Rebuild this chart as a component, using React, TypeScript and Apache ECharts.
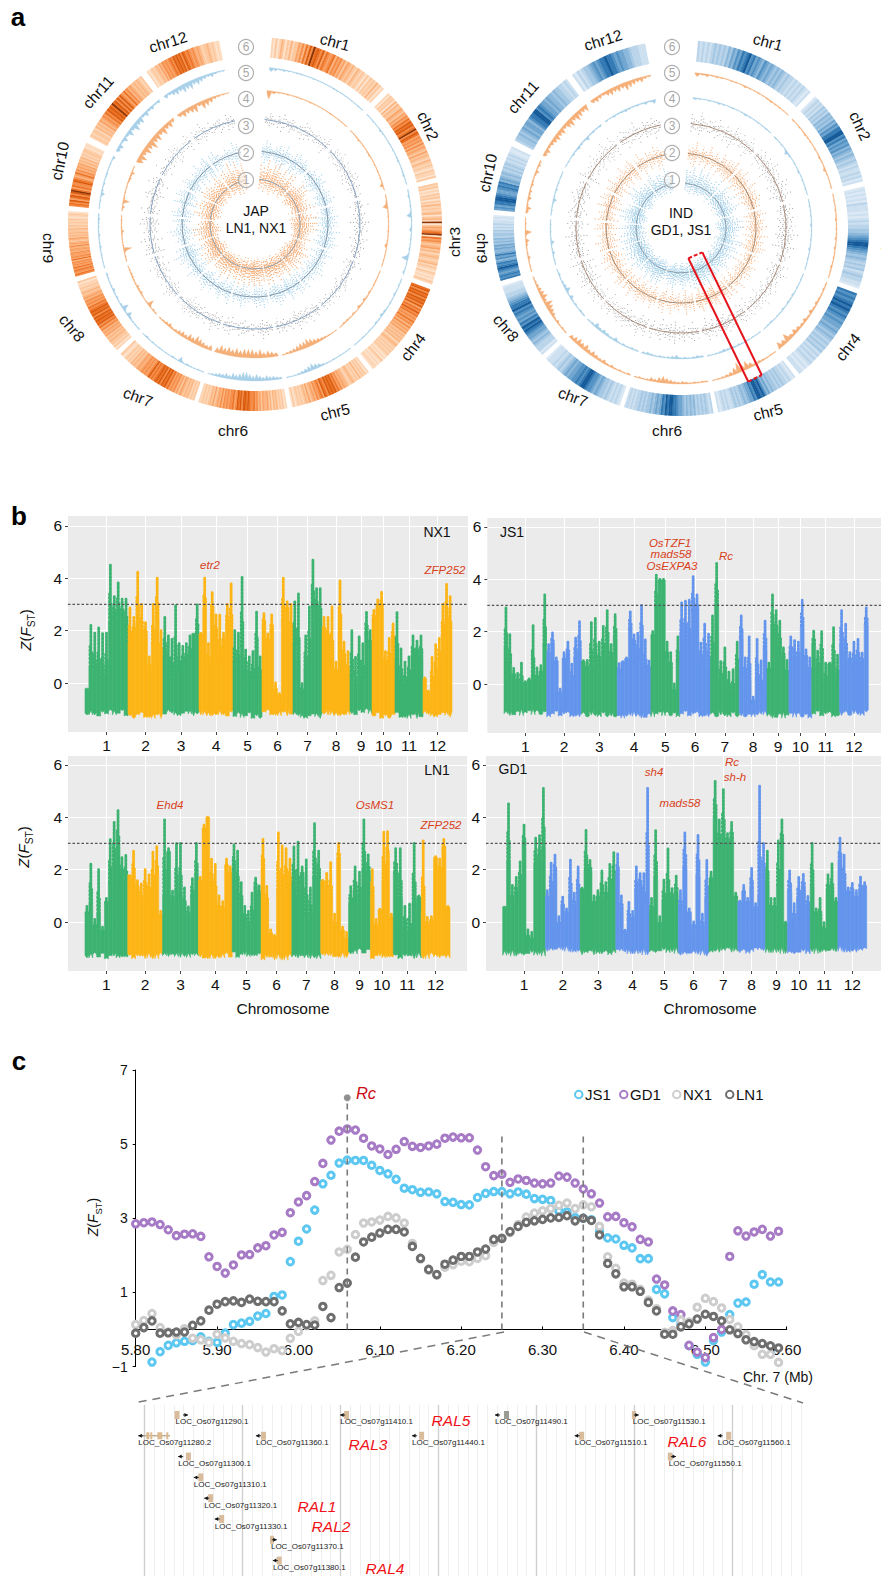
import React, { useEffect, useRef } from "react";
import * as echarts from "echarts";

const FONT = '"Liberation Sans", Arial, sans-serif';

// ---------- panel a: chromosome arcs (degrees clockwise from 12 o'clock)
const CHR_ARCS = [[5.2,43.7],[45.5,75.6],[77.2,108.9],[110.4,141],[142.4,168.6],[170,197.7],[199,226],[227.5,252],[253.6,274],[275.5,295.8],[297.7,322.5],[324.5,349]];
const ORANGES = ['#feeede','#fde3cc','#fdd5b4','#fcc79c','#fbb581','#f9a266','#f58c47','#ec7326','#d95c0f','#8a3305'];
const BLUES = ['#e9f1f9','#dce9f5','#cde0f0','#bad4ea','#a4c7e3','#8bb7da','#6fa5cf','#5291c3','#3379b3','#155a99'];

const HEAT_JAP = ["2131243132423354647586978768576567465645354343243232131323242312","2132314243354354657687867968756564645435343243232132213","3231213231324232341342913546791756434534234323423213212132","7868786878685768675657564645453434342343232323212132121221","2132324232343234454657687878678576564543534323232131","2132324342435445354657667878868786576656564645435343232322","3232434345354656576878687876768656565454343423232123","2132334343545465768787868787675656454343232213","6756757565647565564554645434534343342332323212321","6768578689757668764575645453434232332121","2323324343545657687879786868657564543434323","2123234354656567687878687676565454323343232121"];
const HEAT_IND = ["3232323434343546576878978676576565454543433232323212","1232324343545465768899786767565454343232232312","1212121322212123233445678998765454343423433221","8787898987876766565454343434232323212122","2123233434344546579899786654543434322323212","3234343435454545667889989786565454434343323232","1232323434456567789987877665654343232221","2133345456678989786767879887654332221","8787678987865768655656454534434232322121","6768899876678785654543434323232112","3445456566578899787665655454433232","2132344567678898876766554333222"];

const AREA_JAP_5 = ["542321221121111221111121","112113211212123112311","131216114121217113","12131213423121211","1112121235676543101","3455656767887675655431","121132613111212131","2223627313242123","11121321312232","1121531312311214","5636475867464534","54676878676545322"];
const AREA_JAP_4 = ["8421211212111121111","1123121231121212151","126121121141111","1122132424132331","0123456787765431","5676878887878786","6567867565435432","2317212434223321","1218211242121","1417312121343521","7868797868675","5767858764321"];
const AREA_IND_5 = ["534232122132121232211","212132212132142112","121213121313121321","2323435354565867","1223436879754321","2323234345676453232","3232435456576765","2324356785765432","1214213517121","4632534243235243","5645676757868767","5654676768765643"];
const AREA_IND_4 = ["321213212113212121","212153121312121","121213112131211","1212132313221321","112132325343212","343232543232343","2323253454632","2313251643131","1214215212121","1212521312121","1213243252323","2132343232425"];

const CLOUD_JAP_1 = ["87978978688","66878767678","57868787667","66768778787","78677876878","77878786878","77686787777","68787867676","76878676","67867877","787876787","88797968"];
const CLOUD_JAP_2 = ["687567786578676","576867567686","67586776857687","68576786758","78678567876","6878567867","87686576876","67857687968","57689657","78658687","6875768578","78657687"];
const CLOUD_JAP_3 = ["6757867568767568","57686756786756","68576867586776","78567687576867","67586768576867","67857687687","76867586768756","67857686857","876957687","7856786587","6857687568","7685768576"];
const CLOUD_IND_1 = ["77868787678","68767867876","67878767688","78687678767","77868787878","86787678776","67878768767","77867878678","78687687","67878767","678786767","78677687"];
const CLOUD_IND_2 = ["678576867586778","76867586768756","68576876857687","67586776858","78658767686","7685768687","68576876857","78657686876","76867587","86758687","7685768578","68576876"];
const CLOUD_IND_3 = ["7685768576867586","68576867587686","67586768768576","76857687586768","78657686857686","68576876857","76857686875768","68575876868","786768578","6875768657","8576867868","6876857687"];

// ---------- panel b: genome-scan envelopes, per chromosome
const CHR_SIZES = [43,35,36,34,29,31,29,28,22,23,28,29];
const CHR_LABELS = ["1","2","3","4","5","6","7","8","9","10","11","12"];

const NX1_TOP = [[-0.2,2.2,1.9,2.1,1.9,1.9,4.5,3.3,3.85,3.2,3.2],[2.9,2.5,4.25,3.0,2.3,1.0,3.0,4.05,2.0],[2.5,1.8,1.7,3.0,1.5,1.4,1.5,1.8,1.9,3.0],[1.9,4.0,1.5,3.45,2.6,2.6,1.9,3.0,3.8],[2.0,1.9,4.05,1.3,1.0,1.2,2.7,1.0],[2.65,1.9,2.6,0.0,-0.4,4.0,3.1,3.0],[3.1,3.4,0.0,1.8,2.9,4.7,3.6,3.6],[2.5,2.5,2.9,0.8,3.9,1.6,1.2],[2.0,1.0,1.8,1.5,2.7,2.0],[2.8,3.2,3.5,1.2,1.7,2.3],[2.7,1.3,0.8,1.0,1.8,1.6,1.8],[0.2,-0.3,1.0,1.5,1.7,3.0,3.8,3.3]];
const NX1_SOLID = [[-0.2,0.6,0.3,0.2,0.1,0.3,2.3,2.5,2.6,2.6,2.2],[1.5,1.9,2.3,2.0,1.8,0.5,1.5,2.5,1.0],[1.0,0.5,0.3,0.6,0.5,0.8,0.9,1.0,1.9,1.9],[1.8,2.8,0.7,2.6,1.8,0.8,1.6,2.2,2.0],[0.8,0.6,1.4,0.6,0.1,0.2,1.2,0.2],[2.2,1.5,2.0,-0.3,-0.5,2.4,2.8,1.8],[1.5,0.8,-0.4,0.5,1.0,2.9,2.8,2.4],[1.9,1.5,0.9,0.3,1.9,0.9,0.3],[0.3,-0.1,0.4,0.2,1.9,1.4],[2.4,2.8,2.8,0.7,0.8,1.6],[0.9,0.1,-0.1,0.2,1.0,1.1,1.0],[0.1,-0.4,-0.1,0.1,0.9,1.8,2.4,1.8]];
const NX1_LOW = [-1.15,-1.25,-1.15,-1.15,-1.25,-1.15,-1.25,-1.15,-1.1,-1.25,-1.25,-1.2];
const NX1_ROUGH = "3140625137052461305724610352647103";

const JS1_TOP = [[2.9,1.9,0.6,0.4,0.8,0.1,0.2,2.25,0.65,0.7,3.4],[1.5,1.95,1.0,-0.2,1.2,1.6,0.8,1.75,2.4],[0.9,0.9,2.35,2.5,1.6,2.2,2.8,1.5,2.65],[0.8,0.85,1.0,2.8,1.9,1.95,3.0,1.7,0.9],[2.0,4.15,4.0,4.0,1.6,1.2,0.0,1.8],[3.1,3.2,3.2,4.1,3.4,1.6,2.3,1.9],[2.6,4.6,0.9,1.4,0.5,0.55,1.6],[2.6,1.0,1.8,-0.5,1.75,0.9,2.4],[0.8,3.4,2.8,2.4,1.4,0.9],[1.8,1.7,1.6,3.2,1.3,1.0],[2.05,1.3,2.0,0.8,0.8,2.15,1.1],[2.8,2.3,1.2,1.6,1.7,1.2,2.9]];
const JS1_SOLID = [[1.4,0.8,0.3,0.1,0.0,0.0,0.1,0.3,0.1,0.4,1.5],[1.0,1.5,0.8,-0.4,0.9,1.1,0.1,1.0,1.3],[0.8,0.6,0.7,1.0,0.7,1.2,1.5,1.0,1.8],[0.4,0.8,0.9,2.1,1.5,1.0,1.8,0.6,0.5],[1.8,3.0,3.9,3.9,1.0,0.6,-0.3,0.9],[1.9,1.8,1.5,2.8,2.8,0.9,1.2,0.6],[1.0,3.0,0.2,0.3,-0.2,-0.3,0.6],[1.8,0.4,0.2,-0.7,0.2,-0.2,1.4],[0.5,2.2,1.9,1.4,1.0,0.3],[1.2,1.0,1.0,2.2,1.0,0.4],[1.5,0.6,1.0,0.0,0.7,0.8,0.2],[1.5,1.2,0.9,0.8,0.9,0.8,2.3]];
const JS1_LOW = [-1.1,-1.15,-1.15,-1.2,-1.15,-1.15,-1.15,-1.15,-1.2,-1.2,-1.15,-1.1];
const JS1_ROUGH = "2514036142503716402531740625130472";

const LN1_TOP = [[0.6,2.25,0.1,2.0,-0.2,0.9,3.15,3.8,4.25,2.5,2.55],[1.8,2.7,1.6,1.5,2.0,1.8,2.7,2.9,0.4],[3.9,2.8,1.2,3.0,3.0,1.3,0.6,1.7,3.0],[1.7,3.7,4.0,2.4,2.2,1.0,0.8,2.4,2.1],[2.95,2.7,1.5,0.6,0.4,1.1,1.7,1.4],[3.15,1.4,-0.3,-0.5,3.4,2.9,2.8,2.4],[2.9,3.05,2.1,2.4,1.3,3.75,2.7],[1.6,1.9,2.3,0.3,3.0,-0.2,-0.4],[1.35,2.1,1.9,3.9,2.6],[2.0,0.1,0.5,3.45,3.45,0.3],[2.8,2.8,0.6,0.7,3.0,1.0],[3.1,0.2,0.2,2.5,2.4,3.15,0.6]];
const LN1_SOLID = [[0.3,0.7,-0.2,0.3,-0.4,0.7,1.5,2.2,2.8,1.8,1.6],[1.8,1.7,1.2,0.8,1.2,1.0,1.3,1.8,0.2],[1.0,2.6,0.8,1.2,1.1,0.5,0.2,1.0,1.8],[1.5,3.5,3.95,1.5,0.9,0.4,0.4,2.1,1.8],[2.0,1.2,0.7,0.1,-0.2,0.1,1.3,1.0],[2.0,0.7,-0.5,-0.6,1.2,1.2,1.6,1.4],[1.5,1.0,1.8,0.3,0.3,1.7,1.7],[1.5,1.2,0.9,-0.2,2.4,-0.4,-0.7],[0.7,1.2,1.0,2.0,1.9],[1.0,-0.2,0.4,1.5,2.3,0.1],[1.9,0.9,-0.2,-0.4,0.7,0.9],[0.4,-0.2,0.0,2.4,1.9,2.8,0.5]];
const LN1_LOW = [-1.3,-1.3,-1.25,-1.3,-1.25,-1.35,-1.3,-1.25,-1.15,-1.3,-1.3,-1.3];
const LN1_ROUGH = "4152603714250637150426317405261304";

const GD1_TOP = [[0.6,4.55,1.4,1.7,2.3,3.7,-0.3,-0.4,3.2,3.3,5.1],[1.2,2.25,2.55,0.2,0.95,0.5,2.4,1.1,2.1],[1.3,3.5,2.35,1.0,1.2,1.95,1.5,2.2,2.65],[2.6,1.0,-0.3,0.75,0.4,2.1,1.85,1.85,5.1],[0.9,3.5,0.2,1.6,2.8,1.3,1.75],[1.2,3.4,0.5,0.0,3.35,0.3,2.35],[1.9,5.4,3.9,5.05,3.4,3.8,1.1],[0.8,1.4,0.9,2.05,0.7,5.2,3.0],[2.7,0.9,0.9,3.1,3.9,0.0],[1.95,0.7,1.7,1.85,1.0],[3.0,0.5,0.9,0.0,1.8,2.25,0.9],[3.2,2.55,1.3,1.5,1.2,1.75,1.5]];
const GD1_SOLID = [[0.6,2.3,0.8,1.1,1.5,2.9,-0.6,-0.7,2.2,2.4,2.8],[0.9,1.2,1.8,-0.1,0.6,0.3,1.0,0.6,1.1],[1.2,2.0,2.0,0.7,0.9,1.1,0.9,1.3,1.6],[1.8,0.5,-0.4,0.1,0.1,1.2,1.4,0.8,1.8],[0.4,1.7,-0.1,0.8,1.0,0.9,1.1],[0.6,2.1,0.3,-0.2,1.8,-0.2,0.9],[1.6,4.0,3.0,3.3,3.0,3.2,0.9],[0.7,1.1,0.7,1.3,0.5,1.0,1.8],[1.5,0.4,0.4,1.4,3.0,-0.1],[1.2,0.1,0.9,1.3,0.6],[1.4,0.3,0.1,-0.4,1.2,1.0,0.7],[2.3,1.5,1.1,1.1,0.9,1.2,1.3]];
const GD1_LOW = [-1.2,-1.05,-1.15,-1.15,-1.1,-1.2,-1.05,-1.1,-1.1,-1.15,-1.1,-1.05];
const GD1_ROUGH = "1605243716052437150362471530264715";

// ---------- panel c
const JS1_Z = [null,null,-0.88,-0.6,-0.43,-0.36,-0.32,-0.3,-0.2,-0.32,-0.35,-0.1,0.13,0.17,0.22,0.36,0.43,0.89,0.93,1.83,2.38,2.71,3.22,3.93,4.16,4.49,4.57,4.56,4.56,4.43,4.29,4.2,4.05,3.81,3.77,3.7,3.71,3.66,3.45,3.43,3.37,3.36,3.56,3.67,3.72,3.72,3.66,3.71,3.65,3.53,3.51,3.48,3.2,3.17,3.02,3.0,2.96,2.65,2.47,2.44,2.27,2.2,1.91,1.91,1.08,0.96,0.32,0.17,-0.44,-0.67,-0.88,-0.3,-0.07,0.4,0.71,0.74,1.22,1.48,1.28,1.28];
const GD1_Z = [2.85,2.88,2.9,2.83,2.69,2.53,2.57,2.58,2.51,1.96,1.7,1.52,1.74,2.01,2.02,2.2,2.26,2.55,2.62,3.15,3.44,3.61,3.99,4.48,5.11,5.35,5.41,5.38,5.16,4.95,4.87,4.72,4.86,5.07,4.94,4.91,4.95,5.0,5.16,5.19,5.17,5.17,4.84,4.39,4.15,4.19,3.97,4.06,4.02,3.95,3.93,3.95,4.14,4.11,3.95,3.79,3.66,3.41,3.04,3.05,2.88,2.77,2.43,2.36,1.36,1.2,0.5,0.4,-0.43,-0.61,-0.76,-0.22,0.0,1.97,2.66,2.52,2.63,2.7,2.52,2.65];
const NX1_Z = [0.13,0.24,0.43,0.05,-0.07,-0.15,0.02,-0.24,-0.28,-0.35,-0.13,-0.23,-0.32,-0.38,-0.41,-0.49,-0.61,-0.52,-0.57,-0.24,-0.05,0.1,0.23,1.32,1.46,2.09,2.16,2.56,2.87,2.9,2.95,3.05,3.01,2.87,2.32,1.9,1.6,1.47,1.68,1.75,1.84,1.83,1.92,1.99,2.35,2.45,2.62,2.83,3.03,3.14,3.2,3.26,3.35,3.41,3.26,3.36,3.31,2.78,1.96,1.65,1.25,1.22,1.08,0.79,0.56,-0.08,-0.03,0.25,0.2,0.6,0.84,0.75,0.58,0.27,0.07,-0.14,-0.44,-0.67,-0.67,-0.89];
const LN1_Z = [-0.1,0.05,0.23,-0.1,-0.09,-0.07,-0.07,0.11,0.23,0.52,0.68,0.75,0.77,0.73,0.82,0.76,0.75,0.75,0.5,0.15,0.19,0.13,0.12,0.62,0.32,1.13,1.25,1.95,2.36,2.49,2.6,2.7,2.7,2.63,2.24,1.92,1.62,1.48,1.76,1.87,1.97,1.97,2.09,2.17,2.43,2.46,2.64,2.78,2.89,2.93,2.97,3.01,3.02,3.07,2.93,3.0,2.94,2.55,1.78,1.5,1.15,1.15,1.03,0.73,0.5,-0.13,-0.13,0.07,0.15,0.28,0.41,0.35,0.23,-0.01,-0.11,-0.28,-0.33,-0.38,-0.44,-0.5];
const C_TICKS = [5.8,5.9,6.0,6.1,6.2,6.3,6.4,6.5,6.6];
const C_YTICKS = [-1,1,3,5,7];

const GENE_NAMES = ["LOC_Os07g11290.1","LOC_Os07g11410.1","LOC_Os07g11490.1","LOC_Os07g11530.1","LOC_Os07g11280.2","LOC_Os07g11360.1","LOC_Os07g11440.1","LOC_Os07g11510.1","LOC_Os07g11560.1","LOC_Os07g11300.1","LOC_Os07g11550.1","LOC_Os07g11310.1","LOC_Os07g11320.1","LOC_Os07g11330.1","LOC_Os07g11370.1","LOC_Os07g11380.1"];
const GENE_START = [6259.6,6284.8,6308.5,6329.6,6253.9,6271.9,6295.8,6320.7,6342.6,6260.0,6335.1,6262.4,6264.0,6265.6,6274.2,6274.5];
const GENE_END = [6261.8,6286.3,6310.8,6330.8,6258.9,6273.6,6297.8,6322.3,6344.8,6262.1,6336.5,6264.0,6265.5,6267.2,6275.4,6276.0];
const GENE_ROW = [0,0,0,0,1,1,1,1,1,2,2,3,4,5,6,7];
const GENE_DIR = [1,-1,-1,1,-1,-1,-1,-1,-1,-1,1,-1,-1,-1,1,-1];

const RING_LABEL_L = [[335,42,15],[428,126,65],[454,242,-90],[413,347,-52],[335,412,-14],[233,430,0],[138,397,20],[72,328,50],[48,248,90],[60,161,-78],[98,92,-48],[168,42,-17]];
const RING_LABEL_R = [[768,42,15],[860,126,65],[886,243,-90],[848,347,-52],[768,412,-14],[667,430,0],[573,397,20],[506,328,50],[482,248,90],[488,173,-78],[523,97,-48],[603,40,-17]];

function angleOf(p: number[], cs: any) { return Math.atan2(p[1] - cs.cy, p[0] - cs.cx); }
function radOf(p: number[], cs: any) { return Math.hypot(p[0] - cs.cx, p[1] - cs.cy); }

function heatSeries(polarIndex: number, strs: string[], palette: string[], r0: number, r1: number) {
  const data: any[] = [];
  strs.forEach((s, c) => {
    const [a, b] = CHR_ARCS[c];
    const w = (b - a) / s.length;
    for (let i = 0; i < s.length; i++) data.push([r1, a + i * w, a + (i + 1) * w, +s[i], r0, i === s.length - 1 ? 0 : 0.12]);
  });
  return {
    type: "custom", coordinateSystem: "polar", polarIndex, silent: true, encode: { radius: 0, angle: 1 }, data,
    renderItem(params: any, api: any) {
      const cs = params.coordSys;
      const a0 = api.value(1), a1 = api.value(2) + api.value(5);
      const p0 = api.coord([api.value(0), a0]), p1 = api.coord([api.value(0), a1]), pi = api.coord([api.value(4), a0]);
      let s = angleOf(p0, cs), e = angleOf(p1, cs);
      if (e < s) e += Math.PI * 2;
      return { type: "sector", shape: { cx: cs.cx, cy: cs.cy, r: radOf(p0, cs), r0: radOf(pi, cs), startAngle: s, endAngle: e, clockwise: true }, style: { fill: palette[api.value(3)] } };
    },
  };
}

function areaSeries(polarIndex: number, strs: string[], base: number, color: string) {
  return {
    type: "custom", coordinateSystem: "polar", polarIndex, silent: true, encode: { radius: 0, angle: 1 },
    data: strs.map((s, c) => [base, CHR_ARCS[c][0], c]),
    renderItem(params: any, api: any) {
      const c = api.value(2), s = strs[c];
      const [a, b] = CHR_ARCS[c];
      const top: number[][] = [], bot: number[][] = [];
      const w = (b - a) / s.length;
      for (let i = 0; i < s.length; i++) {
        const t = a + (i + 0.5) * w;
        const d = +s[i];
        const h = 0.4 + d * d * 0.12;
        top.push(api.coord([base - 0.4 - h * 0.3, a + i * w]).slice(0, 2));
        top.push(api.coord([base - 0.4 - h, t]).slice(0, 2));
        bot.push(api.coord([base, t]).slice(0, 2));
      }
      const start = api.coord([base, a]).slice(0, 2), end = api.coord([base, b]).slice(0, 2);
      return { type: "polygon", shape: { points: [start, ...top, end, ...bot.reverse()] }, style: { fill: color, stroke: color, lineWidth: 0.3 } };
    },
  };
}

function cloudSeries(polarIndex: number, strs: string[], base: number, color: string, dashes: number[][], lw: number, kOut: number, kIn: number, opacity: number) {
  const data: any[] = [];
  strs.forEach((s, c) => {
    const [a, b] = CHR_ARCS[c];
    const w = (b - a) / s.length;
    for (let i = 0; i < s.length; i++) data.push([base, a + (i + 0.25) * w, +s[i], w / 2, i]);
  });
  return {
    type: "custom", coordinateSystem: "polar", polarIndex, silent: true, encode: { radius: 0, angle: 1 }, data,
    renderItem(params: any, api: any) {
      const a = api.value(1), d = api.value(2), w = api.value(3), idx = api.value(4);
      const ext = d * d * 0.2;
      const mk = (ang: number, ko: number, ki: number, off: number, dash: number[]) => {
        const p = api.coord([base + ext * ko, ang]), q = api.coord([base - ext * ki, ang]);
        return { type: "line", shape: { x1: q[0], y1: q[1], x2: p[0], y2: p[1] }, style: { stroke: color, lineWidth: lw, lineDash: dash, lineDashOffset: off, opacity } };
      };
      const n = dashes.length;
      return { type: "group", children: [
        mk(a, kOut, kIn, idx * 0.93 + d * 0.37, dashes[(idx + d) % n]),
        mk(a + w, kOut * 0.55, kIn * 0.6, idx * 1.37 + d * 0.71, dashes[(idx * 2 + d + 1) % n]),
        mk(a + w * 0.5, kOut * 0.3, kIn * 0.3, idx * 0.61, dashes[(idx * 3 + d + 2) % n]),
      ] };
    },
  };
}

function arcSeries(polarIndex: number, r: number, color: string) {
  return {
    type: "custom", coordinateSystem: "polar", polarIndex, silent: true, encode: { radius: 0, angle: 1 }, z: 4,
    data: CHR_ARCS.map((arc) => [r, arc[0], arc[1]]),
    renderItem(params: any, api: any) {
      const cs = params.coordSys;
      const p0 = api.coord([r, api.value(1)]), p1 = api.coord([r, api.value(2)]);
      let s = angleOf(p0, cs), e = angleOf(p1, cs);
      if (e < s) e += Math.PI * 2;
      return { type: "arc", shape: { cx: cs.cx, cy: cs.cy, r: radOf(p0, cs), startAngle: s, endAngle: e, clockwise: true }, style: { stroke: color, fill: "none", lineWidth: 0.8 } };
    },
  };
}

const cum: number[] = [0];
CHR_SIZES.forEach((s, i) => cum.push(cum[i] + s));
const CHR_CENTERS = CHR_SIZES.map((s, i) => cum[i] + s / 2);
const TOTAL = cum[12];

function manhattanSeries(idx: number, tops: number[][], solids: number[][], lows: number[], rough: string, colA: string, colB: string) {
  const data: any[] = [];
  tops.forEach((t, c) => {
    const w = CHR_SIZES[c] / t.length;
    t.forEach((v, i) => data.push([cum[c] + i * w, cum[c] + (i + 1) * w, lows[c], solids[c][i], v, c, i]));
  });
  return {
    type: "custom", xAxisIndex: idx, yAxisIndex: idx, silent: true, encode: { x: [0, 1], y: [2, 4] }, z: 3, data,
    renderItem(params: any, api: any) {
      const x0 = api.value(0), x1 = api.value(1), lo = api.value(2), so = api.value(3), hi = api.value(4), c = api.value(5);
      const col = c % 2 === 0 ? colA : colB;
      const di = params.dataIndex;
      const w = x1 - x0;
      const loA = lo + (+rough[di % rough.length] - 3) * 0.035, loB = lo + (+rough[(di * 3 + 1) % rough.length] - 3) * 0.035;
      const pts = [[x0, loA], [x0 + w * 0.5, loB], [x1, loA], [x1, so - 0.35 * (x1 - x0) * 0.05], [x1 - w * 0.12, so], [x0 + w * 0.12, so], [x0, so - 0.02]].map((q) => api.coord(q).slice(0, 2));
      const ch: any[] = [{ type: "polygon", shape: { points: pts }, style: { fill: col, stroke: col, lineWidth: 0.6 } }];
      if (hi > so) {
        const mid = (x0 + x1) / 2;
        const t = api.coord([mid, hi]), m = api.coord([mid, so]);
        ch.push({ type: "line", shape: { x1: m[0], y1: m[1], x2: t[0], y2: t[1] }, style: { stroke: col, lineWidth: 2.8, lineCap: "round", lineDash: [2.4, 1.3] } });
        const l = api.coord([x0 + w * 0.2, so + (hi - so) * 0.5]), ml = api.coord([x0 + w * 0.2, so]);
        ch.push({ type: "line", shape: { x1: ml[0], y1: ml[1], x2: l[0], y2: l[1] }, style: { stroke: col, lineWidth: 2.2, lineCap: "round", lineDash: [1.8, 2.2] } });
        const r = api.coord([x0 + w * 0.8, so + (hi - so) * 0.35]), mr = api.coord([x0 + w * 0.8, so]);
        ch.push({ type: "line", shape: { x1: mr[0], y1: mr[1], x2: r[0], y2: r[1] }, style: { stroke: col, lineWidth: 2.2, lineCap: "round", lineDash: [1.8, 1.6] } });
      }
      return { type: "group", children: ch };
    },
  };
}

function nearestLabel(v: number) {
  let best = 0;
  CHR_CENTERS.forEach((c, i) => { if (Math.abs(c - v) < Math.abs(CHR_CENTERS[best] - v)) best = i; });
  return CHR_LABELS[best];
}

const PANELS = [
  { name: "NX1", left: 68, right: 468, top: 516, bottom: 732, x0: 85, x1: 452, y0: 683 },
  { name: "JS1", left: 487.3, right: 881, top: 518, bottom: 733, x0: 504, x1: 868.3, y0: 684 },
  { name: "LN1", left: 68, right: 467, top: 756, bottom: 971, x0: 85, x1: 450, y0: 922 },
  { name: "GD1", left: 486, right: 881, top: 756, bottom: 971, x0: 502.7, x1: 866.7, y0: 922 },
];
const PX_PER_Z = 26.2;

function txt(x: number, y: number, text: string, size: number, extra: any = {}, rot = 0) {
  return { type: "text", x, y, rotation: -rot * Math.PI / 180, z: 20, silent: true,
    style: { text, x: 0, y: 0, align: "center", verticalAlign: "middle", fontFamily: FONT, fontSize: size, fill: "#111", ...extra } };
}

function zLabel(x: number, y: number, size: number) {
  return { type: "text", x, y, rotation: Math.PI / 2, z: 20, silent: true,
    style: { text: "{i|Z}({i|F}{s|ST}{n|)}", x: 0, y: 0, align: "center", verticalAlign: "middle", fontFamily: FONT, fontSize: size, fill: "#111",
      rich: { i: { fontFamily: FONT, fontStyle: "italic", fontSize: size, fill: "#111" }, n: { fontFamily: FONT, fontSize: size, fill: "#111" }, s: { fontFamily: FONT, fontSize: size * 0.68, fill: "#111", verticalAlign: "bottom", lineHeight: size * 1.5 } } } };
}

function buildOption() {
  const red = "#d8401a";
  const geneX = 144.5, geneW = 803 - 144.5, pxPerKb = 6.533;
  const graphicEls: any[] = [
    txt(18, 17, "a", 26, { fontWeight: "bold", fill: "#000" }),
    txt(19, 516, "b", 26, { fontWeight: "bold", fill: "#000" }),
    txt(19, 1061, "c", 26, { fontWeight: "bold", fill: "#000" }),
    txt(256, 211, "JAP", 14), txt(256, 228, "LN1, NX1", 14),
    txt(681, 213, "IND", 14), txt(681, 230, "GD1, JS1", 14),
  ];
  RING_LABEL_L.concat(RING_LABEL_R).forEach((l, i) => graphicEls.push(txt(l[0], l[1], "chr" + ((i % 12) + 1), 15.5, {}, l[2])));
  [246, 672].forEach((cx) => {
    [[6, 47], [5, 73], [4, 99], [3, 126], [2, 153], [1, 180]].forEach(([n, cy]) => {
      graphicEls.push({ type: "circle", z: 19, silent: true, shape: { cx, cy, r: 7.5 }, style: { fill: "rgba(255,255,255,0.55)", stroke: "#b0b0b0", lineWidth: 1.2 } });
      graphicEls.push(txt(cx, cy, String(n), 12, { fill: "#a8a8a8" }));
    });
  });
  const red2 = "#e5141c";
  graphicEls.push({ type: "line", z: 18, silent: true, shape: { x1: 688.3, y1: 258.3, x2: 748.3, y2: 381.7 }, style: { stroke: red2, lineWidth: 2 } });
  graphicEls.push({ type: "line", z: 18, silent: true, shape: { x1: 702.3, y1: 252.3, x2: 761.7, y2: 375 }, style: { stroke: red2, lineWidth: 2 } });
  graphicEls.push({ type: "line", z: 18, silent: true, shape: { x1: 688.3, y1: 258.3, x2: 702.3, y2: 252.3 }, style: { stroke: red2, lineWidth: 2, lineDash: [4, 2] } });
  graphicEls.push({ type: "line", z: 18, silent: true, shape: { x1: 748.3, y1: 381.7, x2: 761.7, y2: 375 }, style: { stroke: red2, lineWidth: 2, lineDash: [4, 2] } });
  graphicEls.push(zLabel(25, 630, 15), zLabel(23, 847, 15), zLabel(93, 1217, 14));
  graphicEls.push(txt(437, 532, "NX1", 14), txt(512, 532, "JS1", 14), txt(437, 770, "LN1", 14), txt(513, 769, "GD1", 14));
  const ann = (x: number, y: number, t: string) => txt(x, y, t, 11.5, { fontStyle: "italic", fill: red });
  graphicEls.push(ann(210, 565, "etr2"), ann(445, 570, "ZFP252"), ann(670, 543, "OsTZF1"), ann(671, 554, "mads58"), ann(672, 566, "OsEXPA3"), ann(726, 556, "Rc"));
  graphicEls.push(ann(170, 805, "Ehd4"), ann(375, 805, "OsMS1"), ann(441, 825, "ZFP252"), ann(654, 772, "sh4"), ann(680, 803, "mads58"), ann(732, 762, "Rc"), ann(735, 777, "sh-h"));
  graphicEls.push(txt(283, 1008, "Chromosome", 15.5), txt(710, 1008, "Chromosome", 15.5));
  graphicEls.push(txt(366, 1093, "Rc", 16.5, { fontStyle: "italic", fill: "#cc0a14" }));
  graphicEls.push(txt(778, 1377, "Chr. 7 (Mb)", 14));
  const conn = { stroke: "#7a7a7a", lineWidth: 1.5, lineDash: [8, 6] };
  graphicEls.push({ type: "line", z: 1, silent: true, shape: { x1: 504, y1: 1332, x2: 134, y2: 1403 }, style: conn });
  graphicEls.push({ type: "line", z: 1, silent: true, shape: { x1: 584, y1: 1332, x2: 803, y2: 1403 }, style: conn });
  const ral = (x: number, y: number, t: string) => txt(x, y, t, 15.5, { fontStyle: "italic", fill: "#f01218" });
  graphicEls.push(ral(451, 1420, "RAL5"), ral(368, 1444, "RAL3"), ral(687, 1441, "RAL6"), ral(317, 1506, "RAL1"), ral(331, 1526, "RAL2"), ral(385, 1568, "RAL4"));

  const grid: any[] = [], xAxis: any[] = [], yAxis: any[] = [], series: any[] = [];
  const tickLine = { show: true, length: 3, lineStyle: { color: "#444" } };
  PANELS.forEach((p, i) => {
    const ppm = (p.x1 - p.x0) / TOTAL;
    grid.push({ left: p.left, top: p.top, width: p.right - p.left, height: p.bottom - p.top, show: true, backgroundColor: "#ebebeb", borderWidth: 0 });
    xAxis.push({
      type: "value", gridIndex: i, min: -(p.x0 - p.left) / ppm, max: TOTAL + (p.right - p.x1) / ppm,
      axisLine: { show: false, onZero: false }, axisTick: { ...tickLine, customValues: CHR_CENTERS },
      axisLabel: { customValues: CHR_CENTERS, formatter: (v: number) => nearestLabel(v), fontFamily: FONT, fontSize: 15.5, color: "#111", margin: 5 },
      splitLine: { show: true, lineStyle: { color: "#fff", width: 1 } },
    });
    const ymin = p.y0 - p.bottom, ymax = p.y0 - p.top;
    yAxis.push({
      type: "value", gridIndex: i, min: ymin / PX_PER_Z, max: ymax / PX_PER_Z,
      axisLine: { show: false, onZero: false }, axisTick: { ...tickLine, customValues: [0, 2, 4, 6] },
      axisLabel: { customValues: [0, 2, 4, 6], fontFamily: FONT, fontSize: 15.5, color: "#111", margin: 6 },
      splitLine: { show: true, lineStyle: { color: "#fff", width: 1 } },
    });
  });
  series.push(manhattanSeries(0, NX1_TOP, NX1_SOLID, NX1_LOW, NX1_ROUGH, "#3cb371", "#fdb515"));
  series.push(manhattanSeries(1, JS1_TOP, JS1_SOLID, JS1_LOW, JS1_ROUGH, "#3cb371", "#6495ed"));
  series.push(manhattanSeries(2, LN1_TOP, LN1_SOLID, LN1_LOW, LN1_ROUGH, "#3cb371", "#fdb515"));
  series.push(manhattanSeries(3, GD1_TOP, GD1_SOLID, GD1_LOW, GD1_ROUGH, "#3cb371", "#6495ed"));
  PANELS.forEach((p, i) => {
    series.push({ type: "line", xAxisIndex: i, yAxisIndex: i, z: 5, silent: true, symbol: "none", data: [[xAxis[i].min, 3], [xAxis[i].max, 3]], lineStyle: { color: "#555", width: 1.1, type: [2.5, 2] } });
  });

  grid.push({ left: 135.7, top: 1070, width: 651, height: 296.5 });
  xAxis.push({
    type: "value", gridIndex: 4, min: 5.8, max: 6.6,
    axisLine: { show: true, onZero: true, lineStyle: { color: "#000", width: 1 } },
    axisTick: { show: true, inside: true, length: 3, customValues: C_TICKS, lineStyle: { color: "#000" } },
    axisLabel: { customValues: C_TICKS, formatter: (v: number) => v.toFixed(2), fontFamily: FONT, fontSize: 15, color: "#111", margin: -25 },
    splitLine: { show: false },
  });
  yAxis.push({
    type: "value", gridIndex: 4, min: -1, max: 7,
    axisLine: { show: true, onZero: false, lineStyle: { color: "#000", width: 1 } },
    axisTick: { show: true, length: 3, customValues: C_YTICKS, lineStyle: { color: "#000" } },
    axisLabel: { customValues: C_YTICKS, formatter: (v: number) => (v < 0 ? "\u2212" + Math.abs(v) : String(v)), fontFamily: FONT, fontSize: 14, color: "#111", margin: 8 },
    splitLine: { show: false },
  });
  const cSeries = (name: string, vals: (number | null)[], color: string) => ({
    name, type: "scatter", xAxisIndex: 4, yAxisIndex: 4, z: 4, symbol: "circle", symbolSize: 6.5, silent: true,
    itemStyle: { color: "#fff", borderColor: color, borderWidth: 3, opacity: 1 },
    data: vals.map((v, i) => (v === null ? null : [5.8 + i * 0.01, v])).filter(Boolean),
  });
  series.push(cSeries("JS1", JS1_Z, "#5cc8f2"), cSeries("GD1", GD1_Z, "#a77ac6"), cSeries("NX1", NX1_Z, "#cdcdcd"), cSeries("LN1", LN1_Z, "#6e6e6e"));
  const dashLine = (x: number, y: number) => ({ type: "line", xAxisIndex: 4, yAxisIndex: 4, z: 6, silent: true, symbol: "none", data: [[x, 0], [x, y]], lineStyle: { color: "#7a7a7a", width: 1.6, type: [6, 5] } });
  series.push(dashLine(6.06, 6.25), dashLine(6.25, 5.25), dashLine(6.35, 5.25));
  series.push({ type: "scatter", xAxisIndex: 4, yAxisIndex: 4, z: 6, silent: true, symbolSize: 7, itemStyle: { color: "#777" }, data: [[6.06, 6.25]] });

  grid.push({ left: geneX, top: 1405, width: geneW, height: 171 });
  xAxis.push({
    type: "value", gridIndex: 5, min: 6255, max: 6255 + geneW / pxPerKb, interval: 15,
    axisLine: { show: false, onZero: false }, axisTick: { show: false }, axisLabel: { show: false },
    minorTick: { show: false, splitNumber: 10 },
    splitLine: { show: true, showMaxLine: false, lineStyle: { color: "#cfcfcf", width: 1.4 } },
    minorSplitLine: { show: true, lineStyle: { color: "#efefef", width: 1 } },
  });
  yAxis.push({ type: "value", gridIndex: 5, inverse: true, min: -0.48, max: 7.74, axisLine: { show: false, onZero: false }, axisTick: { show: false }, axisLabel: { show: false }, splitLine: { show: false } });
  series.push({
    type: "custom", xAxisIndex: 5, yAxisIndex: 5, z: 4, silent: true, clip: false, encode: { x: [0, 1], y: 2 },
    data: GENE_NAMES.map((n, i) => [GENE_START[i], GENE_END[i], GENE_ROW[i], GENE_DIR[i], i]),
    renderItem(params: any, api: any) {
      const s = api.coord([api.value(0), api.value(2)]), e = api.coord([api.value(1), api.value(2)]);
      const dir = api.value(3), i = api.value(4);
      const y = s[1], x0 = s[0], x1 = e[0];
      const ch: any[] = [];
      const exonW = Math.min(5, (x1 - x0) * 0.5);
      const line = dir < 0 ? [x0 + 1, x0 + 6] : [x1 - 6, x1 - 1];
      if (i === 4) {
        ch.push({ type: "line", shape: { x1: x0 + 4, y1: y, x2: x1, y2: y }, style: { stroke: "#a08a70", lineWidth: 1 } });
        [[9, 3], [13, 2], [20, 5], [29, 2]].forEach(([o, w]) => ch.push({ type: "rect", shape: { x: x0 + o, y: y - 3.5, width: w, height: 7 }, style: { fill: "#dcb98f" } }));
      } else if (dir < 0) {
        ch.push({ type: "rect", shape: { x: x1 - exonW, y: y - 4, width: exonW, height: 8 }, style: { fill: i === 2 ? "#9a9a90" : "#d9bc9c" } });
      } else {
        ch.push({ type: "rect", shape: { x: x0, y: y - 4, width: exonW, height: 8 }, style: { fill: "#d9bc9c" } });
      }
      ch.push({ type: "line", shape: { x1: line[0], y1: y, x2: line[1], y2: y }, style: { stroke: "#111", lineWidth: 0.9 } });
      const tip = dir < 0 ? line[0] : line[1];
      ch.push({ type: "polygon", shape: { points: [[tip, y], [tip - dir * 3.5, y - 2], [tip - dir * 3.5, y + 2]] }, style: { fill: "#111" } });
      ch.push({ type: "text", x: x0 + 1, y: y + 7, style: { text: GENE_NAMES[i], x: 0, y: 0, align: "left", verticalAlign: "middle", fontFamily: FONT, fontSize: 8, fill: "#222" } });
      return { type: "group", children: ch };
    },
  });

  const polar = [{ center: [255, 224], radius: [0, 187] }, { center: [681, 228], radius: [0, 188] }];
  const radiusAxis = [0, 1].map((i) => ({ polarIndex: i, min: 0, max: polar[i].radius[1], show: false }));
  const angleAxis = [0, 1].map((i) => ({ polarIndex: i, min: 0, max: 360, startAngle: 90, show: false }));
  const D1 = [[1, 1.4], [1.1, 2], [1, 1.1], [1.2, 2.6], [1, 1.7]], D3 = [[1, 2.6], [1, 4], [1, 3.2], [1, 2], [1, 5]];
  series.push(heatSeries(0, HEAT_JAP, ORANGES, 167, 187));
  series.push(areaSeries(0, AREA_JAP_5, 157, "#a8d0e8"));
  series.push(areaSeries(0, AREA_JAP_4, 134, "#f5b07a"));
  series.push(cloudSeries(0, CLOUD_JAP_3, 105, "#888888", D3, 0.9, 0.8, 0.85, 0.9));
  series.push(cloudSeries(0, CLOUD_JAP_2, 73, "#9ccbe6", D1, 1.1, 0.95, 1.0, 0.95));
  series.push(cloudSeries(0, CLOUD_JAP_1, 45, "#f5a76c", D1, 1.2, 1.35, 0.8, 0.95));
  series.push(arcSeries(0, 105, "#6f92b8"), arcSeries(0, 73, "#6c8094"), arcSeries(0, 45, "#7f97ad"));
  series.push(heatSeries(1, HEAT_IND, BLUES, 167, 188));
  series.push(areaSeries(1, AREA_IND_5, 156, "#f5b07a"));
  series.push(areaSeries(1, AREA_IND_4, 131, "#a8d0e8"));
  series.push(cloudSeries(1, CLOUD_IND_3, 105, "#888888", D3, 0.9, 0.95, 0.95, 0.9));
  series.push(cloudSeries(1, CLOUD_IND_2, 75, "#f5ae78", D1, 1.1, 0.95, 1.0, 0.95));
  series.push(cloudSeries(1, CLOUD_IND_1, 45, "#9ccbe6", D1, 1.2, 1.35, 0.8, 0.95));
  series.push(arcSeries(1, 105, "#9a7560"), arcSeries(1, 75, "#94785f"), arcSeries(1, 45, "#7e8d99"));

  const leg = (name: string, left: number) => ({
    data: [name], left, top: 1082, icon: "circle", itemWidth: 7.5, itemHeight: 7.5, selectedMode: false,
    textStyle: { fontFamily: FONT, fontSize: 15, color: "#111", padding: [0, 0, 0, -2.5] },
  });
  return {
    animation: false,
    backgroundColor: "#fff",
    textStyle: { fontFamily: FONT },
    polar, radiusAxis, angleAxis, grid, xAxis, yAxis, series,
    legend: [leg("JS1", 569), leg("GD1", 614), leg("NX1", 667), leg("LN1", 720)],
    graphic: { elements: graphicEls },
  };
}

export default function App() {
  const ref = useRef<HTMLDivElement>(null);
  useEffect(() => {
    document.body.style.margin = "0";
    const chart = echarts.init(ref.current as HTMLDivElement, undefined, { renderer: "svg" });
    chart.setOption(buildOption() as any);
    return () => chart.dispose();
  }, []);
  return <div ref={ref} style={{ width: 881, height: 1576 }} />;
}
